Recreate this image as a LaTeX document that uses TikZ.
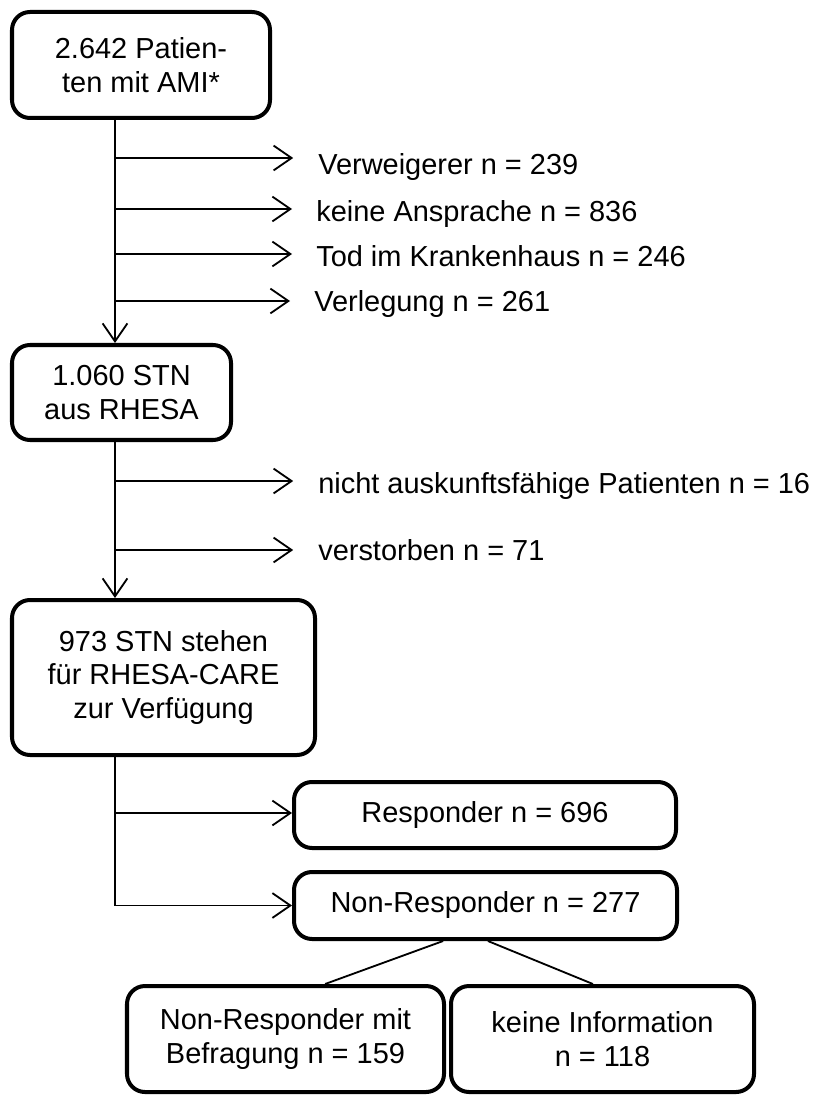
\documentclass[tikz,border=0pt]{standalone}
\usepackage{fontspec}
\setmainfont{Liberation Sans}
\usetikzlibrary{arrows.meta}
\tikzset{
  box/.style={draw, line width=2.85pt, rounded corners=0.45cm, align=center, inner sep=2pt},
  lbl/.style={anchor=base west, inner sep=0pt},
  arr/.style={line width=1.3pt, -{Straight Barb[length=0.45cm,width=0.62cm]}},
  ln/.style={line width=1.3pt}
}
\begin{document}
\begin{tikzpicture}[font=\fontsize{20.6}{23.8}\selectfont]
    \useasboundingbox (0,0) rectangle (20.425,-27.375);
    % boxes of the flow
    \node[box, minimum width=6.45cm, minimum height=2.65cm] (pat) at (3.525,-1.625) {2.642 Patien-\\ten mit AMI*};
    \node[box, minimum width=5.475cm, minimum height=2.375cm] (stn) at (3.0375,-9.8125) {1.060 STN\\aus RHESA};
    \node[box, minimum width=7.575cm, minimum height=3.875cm] (care) at (4.0875,-16.9375) {973 STN stehen\\für RHESA-CARE\\zur Verfügung};
    \node[box, minimum width=9.55cm, minimum height=1.65cm] (resp) at (12.125,-20.375) {Responder n = 696};
    \node[box, minimum width=9.575cm, minimum height=1.675cm] (nonresp) at (12.1375,-22.6375) {Non-Responder n = 277};
    \node[box, minimum width=7.925cm, minimum height=2.65cm] (nrbef) at (7.1375,-25.975) {Non-Responder mit\\Befragung n = 159};
    \node[box, minimum width=7.575cm, minimum height=2.65cm] (noinfo) at (15.0625,-25.975) {keine Information\\n = 118};
    % drop-outs
    \node[lbl] (verw) at (7.95,-4.375) {Verweigerer n = 239};
    \node[lbl] (keine) at (7.9,-5.55) {keine Ansprache n = 836};
    \node[lbl] (tod) at (7.9,-6.675) {Tod im Krankenhaus n = 246};
    \node[lbl] (verl) at (7.85,-7.8) {Verlegung n = 261};
    \node[lbl] (nicht) at (7.95,-12.325) {nicht auskunftsfähige Patienten n = 16};
    \node[lbl] (verst) at (7.95,-14.0) {verstorben n = 71};
    % points on the trunk
    \coordinate (t1) at (2.875,-3.95);
    \coordinate (t2) at (2.875,-5.225);
    \coordinate (t3) at (2.875,-6.35);
    \coordinate (t4) at (2.875,-7.525);
    \coordinate (u1) at (2.875,-12.025);
    \coordinate (u2) at (2.875,-13.75);
    \coordinate (v1) at (2.875,-20.325);
    % trunk
    \draw[arr] (pat.south -| t1) -- (stn.north -| t1);
    \draw[arr] (stn.south -| u1) -- (care.north -| u1);
    \draw[arr] (care.south -| v1) |- (nonresp.west);
    % side arrows
    \draw[arr, shorten >=0.62cm] (t1) -- (t1 -| verw.west);
    \draw[arr, shorten >=0.6cm] (t2) -- (t2 -| keine.west);
    \draw[arr, shorten >=0.6cm] (t3) -- (t3 -| tod.west);
    \draw[arr, shorten >=0.6cm] (t4) -- (t4 -| verl.west);
    \draw[arr, shorten >=0.62cm] (u1) -- (u1 -| nicht.west);
    \draw[arr, shorten >=0.62cm] (u2) -- (u2 -| verst.west);
    \draw[arr] (v1) -- (v1 -| resp.west);
    % split of the non-responders
    \draw[ln] ([xshift=-1.06cm]nonresp.south) -- ([xshift=0.99cm]nrbef.north);
    \draw[ln] ([xshift=0.06cm]nonresp.south) -- ([xshift=-0.24cm]noinfo.north);
\end{tikzpicture}
\end{document}
